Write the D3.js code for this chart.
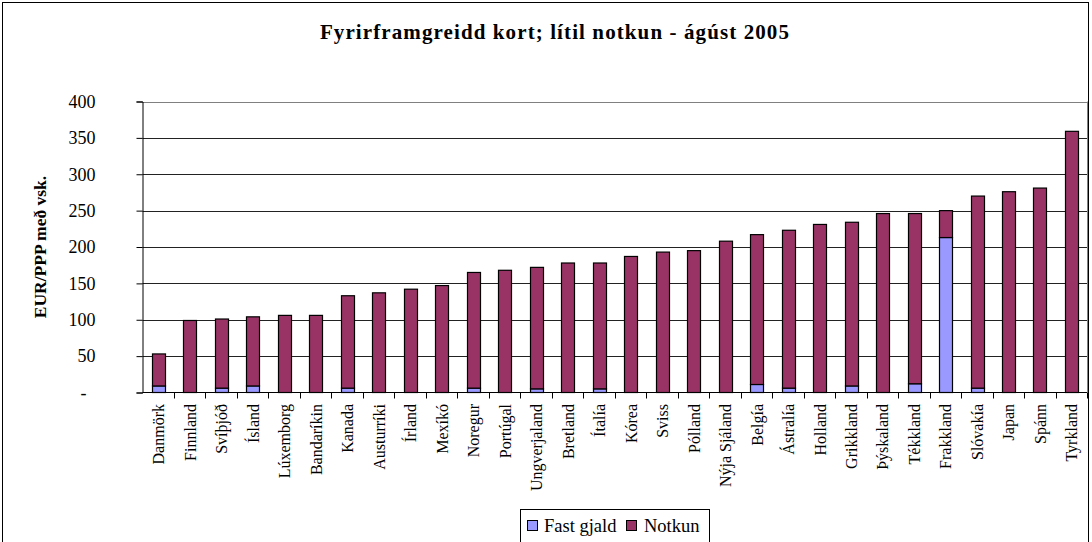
<!DOCTYPE html>
<html>
<head>
<meta charset="utf-8">
<script src="https://cdn.jsdelivr.net/npm/d3@7"></script>
<style>
  body { margin: 0; background: #fff; }
  svg text { font-family: "Liberation Serif", "Times New Roman", serif !important; fill: #000; }
</style>
</head>
<body>
<div id="chart"></div>
<script>
const countries = ['Danmörk', 'Finnland', 'Svíþjóð', 'Ísland', 'Lúxemborg', 'Bandaríkin', 'Kanada',
  'Austurríki', 'Írland', 'Mexíkó', 'Noregur', 'Portúgal', 'Ungverjaland', 'Bretland', 'Ítalía',
  'Kórea', 'Sviss', 'Pólland', 'Nýja Sjáland', 'Belgía', 'Ástralía', 'Holland', 'Grikkland',
  'Þýskaland', 'Tékkland', 'Frakkland', 'Slóvakía', 'Japan', 'Spánn', 'Tyrkland'];

const fastGjald = [9, 0, 6, 9, 0, 0, 6, 0, 0, 0, 6, 0, 5, 0, 5,
  0, 0, 0, 0, 11, 6, 0, 9, 0, 12, 213, 6, 0, 0, 0];

const notkun = [44, 99, 95, 95, 106, 106, 127, 137, 142, 147, 159, 168, 167, 178, 173,
  187, 193, 195, 208, 206, 217, 231, 225, 246, 234, 37, 264, 276, 281, 359];

const yTicks = [0, 50, 100, 150, 200, 250, 300, 350, 400];

const seriesNames = ['Fast gjald', 'Notkun'];
const colors = ['#9999FF', '#993366'];

const width = 1092;
const height = 542;
const margin = { top: 101.5, left: 142.5 };
const plotRight = 1087;
const plotBottom = 392.5;

const svg = d3.select('#chart')
  .append('svg')
  .attr('width', width)
  .attr('height', height);

// outer chart frame (runs off the bottom like the original)
svg.append('rect')
  .attr('x', 2.5).attr('y', 2.5)
  .attr('width', 1086).attr('height', 600)
  .attr('fill', 'none')
  .attr('stroke', '#000');

const x = d3.scaleBand()
  .domain(countries)
  .range([margin.left, plotRight])
  .paddingInner(0.6)
  .paddingOuter(0.3);

// same categories, no padding: used for the tick marks between bars
const xEdges = d3.scaleBand()
  .domain(countries)
  .range([margin.left, plotRight]);

const y = d3.scaleLinear()
  .domain([0, 400])
  .range([plotBottom, margin.top]);

// gridlines
svg.append('g')
  .selectAll('line')
  .data(yTicks.filter(d => d > 0))
  .join('line')
    .attr('x1', margin.left).attr('x2', plotRight)
    .attr('y1', d => Math.round(y(d)) + 0.5).attr('y2', d => Math.round(y(d)) + 0.5)
    .attr('stroke', d => d === 400 ? '#808080' : '#222');

// right edge of plot area
svg.append('line')
  .attr('x1', plotRight + 0.5).attr('x2', plotRight + 0.5)
  .attr('y1', y(400)).attr('y2', plotBottom)
  .attr('stroke', '#808080');

const table = countries.map((c, i) => ({ country: c, 'Fast gjald': fastGjald[i], 'Notkun': notkun[i] }));
const stacked = d3.stack().keys(seriesNames)(table);

svg.append('g')
  .selectAll('g')
  .data(stacked)
  .join('g')
    .attr('fill', (d, i) => colors[i])
  .selectAll('rect')
  .data(d => d.filter(p => p[1] - p[0] > 0))
  .join('rect')
    .attr('x', d => Math.round(x(d.data.country)) + 0.5)
    .attr('y', d => y(d[1]))
    .attr('width', Math.round(x.bandwidth()))
    .attr('height', d => y(d[0]) - y(d[1]))
    .attr('stroke', '#000')
    .attr('stroke-width', 1.2);

// y axis
const yAxis = svg.append('g')
  .attr('transform', `translate(${margin.left},0)`)
  .call(d3.axisLeft(y).tickValues(yTicks).tickSize(6).tickPadding(41)
    .tickFormat(d => d === 0 ? '-  ' : d));
yAxis.select('.domain').attr('stroke', '#000');
yAxis.selectAll('.tick line').attr('stroke', '#000');
yAxis.selectAll('.tick text')
  .attr('font-size', 18)
  .style('white-space', 'pre');

// x axis with ticks at category boundaries
const xAxisG = svg.append('g');
xAxisG.append('line')
  .attr('x1', margin.left).attr('x2', plotRight)
  .attr('y1', plotBottom).attr('y2', plotBottom)
  .attr('stroke', '#000');
xAxisG.selectAll('line.tk')
  .data(countries)
  .join('line')
    .attr('class', 'tk')
    .attr('x1', d => Math.round(xEdges(d) + xEdges.bandwidth()) + 0.5)
    .attr('x2', d => Math.round(xEdges(d) + xEdges.bandwidth()) + 0.5)
    .attr('y1', plotBottom).attr('y2', plotBottom + 6)
    .attr('stroke', '#000');
xAxisG.selectAll('text')
  .data(countries)
  .join('text')
    .attr('transform', d => `translate(${xEdges(d) + xEdges.bandwidth() / 2 + 0.5},404) rotate(-90)`)
    .attr('dy', '0.35em')
    .attr('text-anchor', 'end')
    .attr('font-size', 16)
    .text(d => d);

// title
svg.append('text')
  .attr('x', 555).attr('y', 39)
  .attr('text-anchor', 'middle')
  .attr('font-size', 21)
  .attr('font-weight', 'bold')
  .attr('letter-spacing', 1.1)
  .text('Fyrirframgreidd kort; lítil notkun - ágúst 2005');

// y axis title
svg.append('text')
  .attr('transform', `translate(46,${(margin.top + plotBottom) / 2}) rotate(-90)`)
  .attr('text-anchor', 'middle')
  .attr('font-size', 17.5)
  .attr('font-weight', 'bold')
  .text('EUR/PPP með vsk.');

// legend
const legend = svg.append('g');
legend.append('rect')
  .attr('x', 520.5).attr('y', 509.5)
  .attr('width', 189).attr('height', 40)
  .attr('fill', '#fff')
  .attr('stroke', '#000');
const legendItems = [{ name: seriesNames[0], x: 527.5, tx: 544 }, { name: seriesNames[1], x: 626.5, tx: 644 }];
legendItems.forEach((it, i) => {
  legend.append('rect')
    .attr('x', it.x).attr('y', 520.5)
    .attr('width', 10).attr('height', 10)
    .attr('fill', colors[i])
    .attr('stroke', '#000');
  legend.append('text')
    .attr('x', it.tx).attr('y', 532)
    .attr('font-size', 18.5)
    .text(it.name);
});
</script>
</body>
</html>
